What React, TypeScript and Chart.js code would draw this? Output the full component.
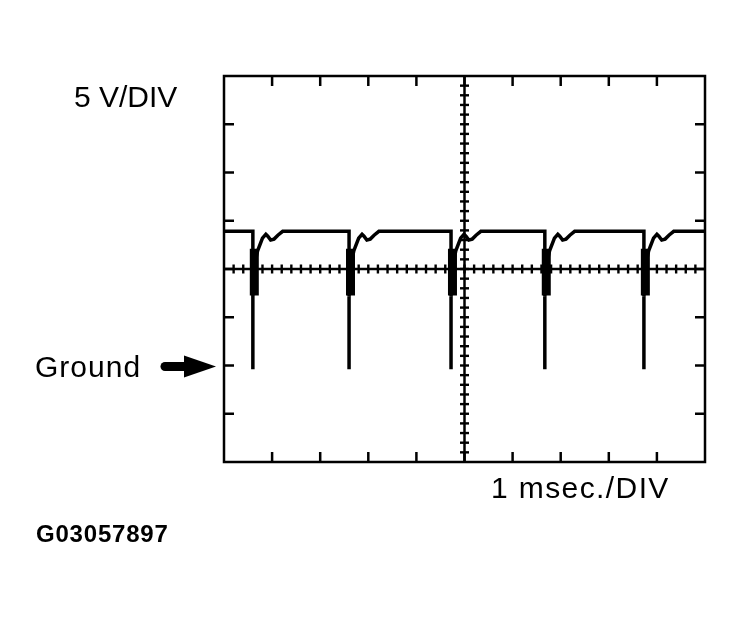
import React, { useEffect, useRef } from "react";
import { Chart, registerables } from "chart.js";

Chart.register(...registerables);

// Oscilloscope screen: 10 divisions of 1 ms, 8 divisions of 5 V (ground at 0 V)
const X_MIN = 0;
const X_MAX = 10;
const X_DIV = 1;
const Y_MIN = -10;
const Y_MAX = 30;
const Y_DIV = 5;
const X_CENTER = 5;
const Y_CENTER = 10;
const MINOR_PER_DIV = 5;
const GROUND_VOLTS = 0;

// Waveform (time in ms, voltage in V)
const traceTime = [
  0.0,
  0.6, 0.6, 0.6, 0.66, 0.7, 0.73, 0.8, 0.87, 0.91, 0.97, 1.04, 1.12, 1.22,
  2.6, 2.6, 2.6, 2.66, 2.7, 2.73, 2.8, 2.87, 2.91, 2.97, 3.04, 3.12, 3.22,
  4.72, 4.72, 4.72, 4.78, 4.82, 4.85, 4.92, 4.99, 5.03, 5.09, 5.16, 5.24, 5.34,
  6.67, 6.67, 6.67, 6.73, 6.77, 6.8, 6.87, 6.94, 6.98, 7.04, 7.11, 7.19, 7.29,
  8.73, 8.73, 8.73, 8.79, 8.83, 8.86, 8.93, 9.0, 9.04, 9.1, 9.17, 9.25, 9.35,
  10.0,
];
const traceVolts = [
  13.9,
  13.9, -0.4, 7.2, 11.0, 11.9, 12.3, 13.2, 13.6, 13.4, 13.0, 13.1, 13.5, 13.9,
  13.9, -0.4, 7.2, 11.0, 11.9, 12.3, 13.2, 13.6, 13.4, 13.0, 13.1, 13.5, 13.9,
  13.9, -0.4, 7.2, 11.0, 11.9, 12.3, 13.2, 13.6, 13.4, 13.0, 13.1, 13.5, 13.9,
  13.9, -0.4, 7.2, 11.0, 11.9, 12.3, 13.2, 13.6, 13.4, 13.0, 13.1, 13.5, 13.9,
  13.9, -0.4, 7.2, 11.0, 11.9, 12.3, 13.2, 13.6, 13.4, 13.0, 13.1, 13.5, 13.9,
  13.9,
];

// Heavy (blurred) part of each falling edge
const burstTime = [0.63, 2.63, 4.75, 6.7, 8.76];
const burstTop = [12.1, 12.1, 12.1, 12.1, 12.1];
const burstBottom = [7.25, 7.25, 7.25, 7.25, 7.25];

const LABEL_VOLT = "5 V/DIV";
const LABEL_TIME = "1 msec./DIV";
const LABEL_GROUND = "Ground";
const LABEL_ID = "G03057897";

const FONT = '"Liberation Sans", Arial, Helvetica, sans-serif';

const scopePlugin = {
  id: "scopeScreen",
  beforeDatasetsDraw(chart: any) {
    const { ctx, chartArea: a, scales } = chart;
    const x = scales.x;
    const y = scales.y;
    const line = (x1: number, y1: number, x2: number, y2: number) => {
      ctx.beginPath();
      ctx.moveTo(x1, y1);
      ctx.lineTo(x2, y2);
      ctx.stroke();
    };
    ctx.save();
    ctx.strokeStyle = "#000";
    ctx.lineCap = "butt";

    // frame
    ctx.lineWidth = 2.5;
    ctx.strokeRect(a.left, a.top, a.right - a.left, a.bottom - a.top);

    // division ticks on frame
    const nx = Math.round((X_MAX - X_MIN) / X_DIV);
    for (let i = 1; i < nx; i++) {
      const px = x.getPixelForValue(X_MIN + i * X_DIV);
      line(px, a.top, px, a.top + 10);
      line(px, a.bottom, px, a.bottom - 10);
    }
    const ny = Math.round((Y_MAX - Y_MIN) / Y_DIV);
    for (let i = 1; i < ny; i++) {
      const py = y.getPixelForValue(Y_MIN + i * Y_DIV);
      line(a.left, py, a.left + 10, py);
      line(a.right, py, a.right - 10, py);
    }

    // center graticule lines
    const cx = x.getPixelForValue(X_CENTER);
    const cy = y.getPixelForValue(Y_CENTER);
    ctx.lineWidth = 2.5;
    line(cx, a.top, cx, a.bottom);
    line(a.left, cy, a.right, cy);

    // minor ticks
    ctx.lineWidth = 2.4;
    const mx = nx * MINOR_PER_DIV;
    for (let i = 1; i < mx; i++) {
      const px = x.getPixelForValue(X_MIN + (i * X_DIV) / MINOR_PER_DIV);
      line(px, cy - 4.5, px, cy + 4.5);
    }
    const my = ny * MINOR_PER_DIV;
    for (let i = 1; i < my; i++) {
      const py = y.getPixelForValue(Y_MIN + (i * Y_DIV) / MINOR_PER_DIV);
      line(cx - 4.5, py, cx + 4.5, py);
    }
    ctx.restore();
  },
  afterDraw(chart: any) {
    const { ctx, chartArea: a, scales } = chart;
    const y = scales.y;
    ctx.save();
    ctx.fillStyle = "#000";
    ctx.textBaseline = "alphabetic";
    ctx.textAlign = "left";

    ctx.font = `30px ${FONT}`;
    (ctx as any).letterSpacing = "0px";
    ctx.fillText(LABEL_VOLT, 74, 107);

    (ctx as any).letterSpacing = "1px";
    ctx.fillText(LABEL_GROUND, 35, 377);

    (ctx as any).letterSpacing = "1.4px";
    ctx.fillText(LABEL_TIME, 491, 498);

    ctx.font = `bold 24px ${FONT}`;
    (ctx as any).letterSpacing = "0.8px";
    ctx.fillText(LABEL_ID, 36, 542);
    (ctx as any).letterSpacing = "0px";

    // arrow pointing at ground level
    const gy = y.getPixelForValue(GROUND_VOLTS) + 1;
    const tip = a.left - 8;
    ctx.strokeStyle = "#000";
    ctx.lineWidth = 9;
    ctx.lineCap = "round";
    ctx.beginPath();
    ctx.moveTo(165, gy);
    ctx.lineTo(188, gy);
    ctx.stroke();
    ctx.beginPath();
    ctx.moveTo(184, gy - 11);
    ctx.lineTo(tip, gy);
    ctx.lineTo(184, gy + 11);
    ctx.closePath();
    ctx.fill();
    ctx.restore();
  },
};

export default function App() {
  const canvasRef = useRef<HTMLCanvasElement | null>(null);

  useEffect(() => {
    const canvas = canvasRef.current;
    if (!canvas) return;

    const trace = traceTime.map((t, i) => ({ x: t, y: traceVolts[i] }));
    const burst: { x: number; y: number | null }[] = [];
    burstTime.forEach((t, i) => {
      burst.push({ x: t, y: burstTop[i] });
      burst.push({ x: t, y: burstBottom[i] });
      burst.push({ x: t, y: null });
    });

    const chart = new Chart(canvas, {
      type: "line",
      data: {
        datasets: [
          {
            data: trace as any,
            borderColor: "#000",
            borderWidth: 3.5,
            pointRadius: 0,
            tension: 0,
            borderJoinStyle: "miter",
            fill: false,
          },
          {
            data: burst as any,
            borderColor: "#000",
            borderWidth: 9,
            borderCapStyle: "butt",
            pointRadius: 0,
            tension: 0,
            spanGaps: false,
            fill: false,
          },
        ],
      },
      options: {
        responsive: false,
        animation: false,
        parsing: false as any,
        normalized: true,
        layout: { padding: { left: 224, top: 76, right: 39, bottom: 157 } },
        scales: {
          x: { type: "linear", min: X_MIN, max: X_MAX, display: false },
          y: { type: "linear", min: Y_MIN, max: Y_MAX, display: false },
        },
        plugins: {
          legend: { display: false },
          tooltip: { enabled: false },
          title: { display: false },
        },
        events: [],
      },
      plugins: [scopePlugin],
    });

    return () => chart.destroy();
  }, []);

  return (
    <div style={{ position: "absolute", left: 0, top: 0, width: 744, height: 619, background: "#fff" }}>
      <canvas ref={canvasRef} width={744} height={619} style={{ display: "block", width: 744, height: 619 }} />
    </div>
  );
}
